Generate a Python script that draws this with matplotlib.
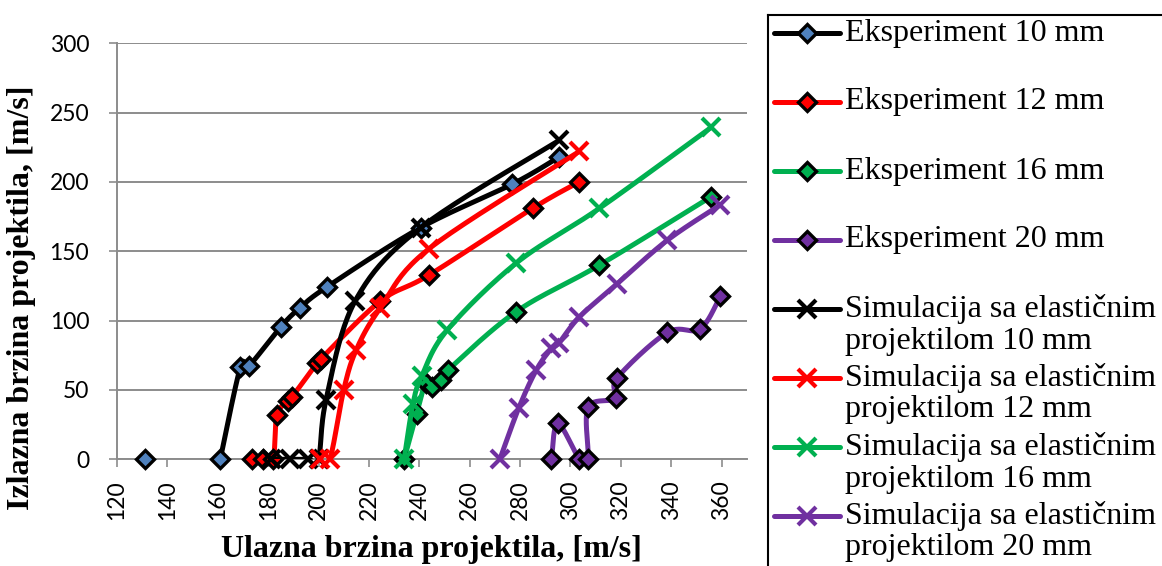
import numpy as np
import matplotlib
matplotlib.use("Agg")
import matplotlib.pyplot as plt

# --- data ---
exp10_x = [131, 161, 169, 172.5, 185, 192.5, 203.5, 240.5, 277, 295.5]
exp10_y = [0, 0, 66.5, 67.5, 95.5, 109, 124.5, 167, 198.5, 218]
exp12_x = [173.5, 178, 182, 183.5, 188, 189.5, 199.5, 201, 224.5, 244, 285, 303.5]
exp12_y = [0, 0, 0, 32, 42, 45, 69.5, 72.5, 114, 133, 181, 200]
exp16_x = [234, 239, 242.5, 245, 248.5, 251.5, 278.5, 311.5, 356]
exp16_y = [0, 33, 55, 52, 57, 64.5, 106.5, 140, 189.5]
exp20_x = [292.5, 295, 303.5, 307, 307, 318, 318.5, 338.5, 351.5, 359.5]
exp20_y = [0, 26, 0.5, 0, 37.5, 44, 58.5, 91.5, 94, 117.5]

sim10_x = [181, 188.5, 196, 200, 203, 214.5, 240.5, 295.5]
sim10_y = [0, 0, 0, 0, 43, 114, 167, 230]
sim12_x = [200.5, 204.5, 210, 215, 224.5, 244, 303.5]
sim12_y = [0, 0, 50, 79, 109, 152, 222]
sim16_x = [234, 237.5, 241, 251, 278.5, 311.5, 356]
sim16_y = [0, 40, 60, 93, 141.5, 181, 239.5]
sim20_x = [272, 279.5, 286.5, 292.5, 295.5, 303.5, 318.5, 338.5, 359.5]
sim20_y = [0, 37, 64.5, 80, 84, 102.5, 126.5, 158, 183.5]

labels = ["Eksperiment 10 mm", "Eksperiment 12 mm", "Eksperiment 16 mm",
          "Eksperiment 20 mm",
          "Simulacija sa elastičnim\nprojektilom 10 mm",
          "Simulacija sa elastičnim\nprojektilom 12 mm",
          "Simulacija sa elastičnim\nprojektilom 16 mm",
          "Simulacija sa elastičnim\nprojektilom 20 mm"]

BLUE, RED, GREEN, PURPLE = "#4F81BD", "#FF0000", "#00B050", "#7030A0"

series = [
    (exp10_x, exp10_y, "black", BLUE, "D"),
    (exp12_x, exp12_y, RED, RED, "D"),
    (exp16_x, exp16_y, GREEN, GREEN, "D"),
    (exp20_x, exp20_y, PURPLE, PURPLE, "D"),
    (sim10_x, sim10_y, "black", "black", "x"),
    (sim12_x, sim12_y, RED, RED, "x"),
    (sim16_x, sim16_y, GREEN, GREEN, "x"),
    (sim20_x, sim20_y, PURPLE, PURPLE, "x"),
]


def smooth(x, y, n=24):
    # Excel-style smoothed line (Catmull-Rom as cubic Bezier)
    p = np.column_stack([x, y]).astype(float)
    p = np.vstack([p[0], p, p[-1]])
    t = np.linspace(0, 1, n)[:, None]
    segs = []
    for i in range(1, len(p) - 2):
        p0, p1, p2, p3 = p[i - 1], p[i], p[i + 1], p[i + 2]
        c1 = p1 + (p2 - p0) / 6
        c2 = p2 - (p3 - p1) / 6
        segs.append((1 - t) ** 3 * p1 + 3 * (1 - t) ** 2 * t * c1
                    + 3 * (1 - t) * t ** 2 * c2 + t ** 3 * p2)
    return np.vstack(segs)


W, H = 1162, 566
fig = plt.figure(figsize=(W / 100, H / 100), dpi=100)
ax = fig.add_axes([117 / W, 1 - 459.3 / H, (746.7 - 117) / W, (459.3 - 43.3) / H])

GRID = "#8C8C8C"
for i, (x, y, lc, fc, m) in enumerate(series):
    z = 3 + i
    # first experiment point (131 m/s) only has a short stub of line
    s = smooth(x[1:], y[1:]) if i == 0 else smooth(x, y)
    ax.plot(s[:, 0], s[:, 1], color=lc, lw=3.6, zorder=z, solid_capstyle="round")
    if m == "D":
        ax.plot(x, y, ls="none", marker="D", ms=9.5, mfc=fc, mec="black",
                mew=2.4, zorder=z, clip_on=False)
    else:
        ax.plot(x, y, ls="none", marker="x", ms=13, mec=lc, mew=3,
                zorder=z, clip_on=False)

ax.set_xlim(120, 370)
ax.set_ylim(0, 300)
ax.set_xticks(np.arange(120, 361, 20))
ax.set_yticks(np.arange(0, 301, 50))
ax.grid(axis="y", color=GRID, lw=1.4)
ax.set_axisbelow(True)
for sp in ["top", "right"]:
    ax.spines[sp].set_visible(False)
for sp in ["left", "bottom"]:
    ax.spines[sp].set_color(GRID)
    ax.spines[sp].set_linewidth(1.4)
ax.tick_params(axis="both", direction="out", color=GRID, length=6, width=1.2)
ax.tick_params(axis="x", pad=9, labelrotation=90)
ax.tick_params(axis="y", pad=14)
for lab in ax.get_xticklabels() + ax.get_yticklabels():
    lab.set_family("Lato")
    lab.set_fontsize(16.5)

serif = "Liberation Serif"
fig.text(431 / W, 1 - 549 / H, "Ulazna brzina projektila, [m/s]", family=serif,
         weight="bold", fontsize=23, ha="center", va="center")
fig.text(22 / W, 1 - 298 / H, "Izlazna brzina projektila, [m/s]", family=serif,
         weight="bold", fontsize=23, ha="center", va="center", rotation=90)

# legend box drawn in pixel coordinates (clipped by the figure edge)
lg = fig.add_axes([768 / W, -100 / H, (1400 - 768) / W, (551 + 100) / H])
lg.set_xlim(768, 1400)
lg.set_ylim(666, 15)
lg.set_xticks([])
lg.set_yticks([])
for sp in lg.spines.values():
    sp.set_color("black")
    sp.set_linewidth(1.5)
for i, ((x, y, lc, fc, m), lab) in enumerate(zip(series, labels)):
    yc = 33 + i * 69
    lg.plot([774, 840], [yc, yc], color=lc, lw=3.6, solid_capstyle="round")
    if m == "D":
        lg.plot([807], [yc], ls="none", marker="D", ms=9.5, mfc=fc, mec="black", mew=2.4)
    else:
        lg.plot([807], [yc], ls="none", marker="x", ms=13, mec=lc, mew=3)
    for k, line in enumerate(lab.split("\n")):
        lg.text(845, yc + k * 32, line, family=serif, fontsize=23,
                ha="left", va="center")

fig.savefig("out.png", dpi=100)
